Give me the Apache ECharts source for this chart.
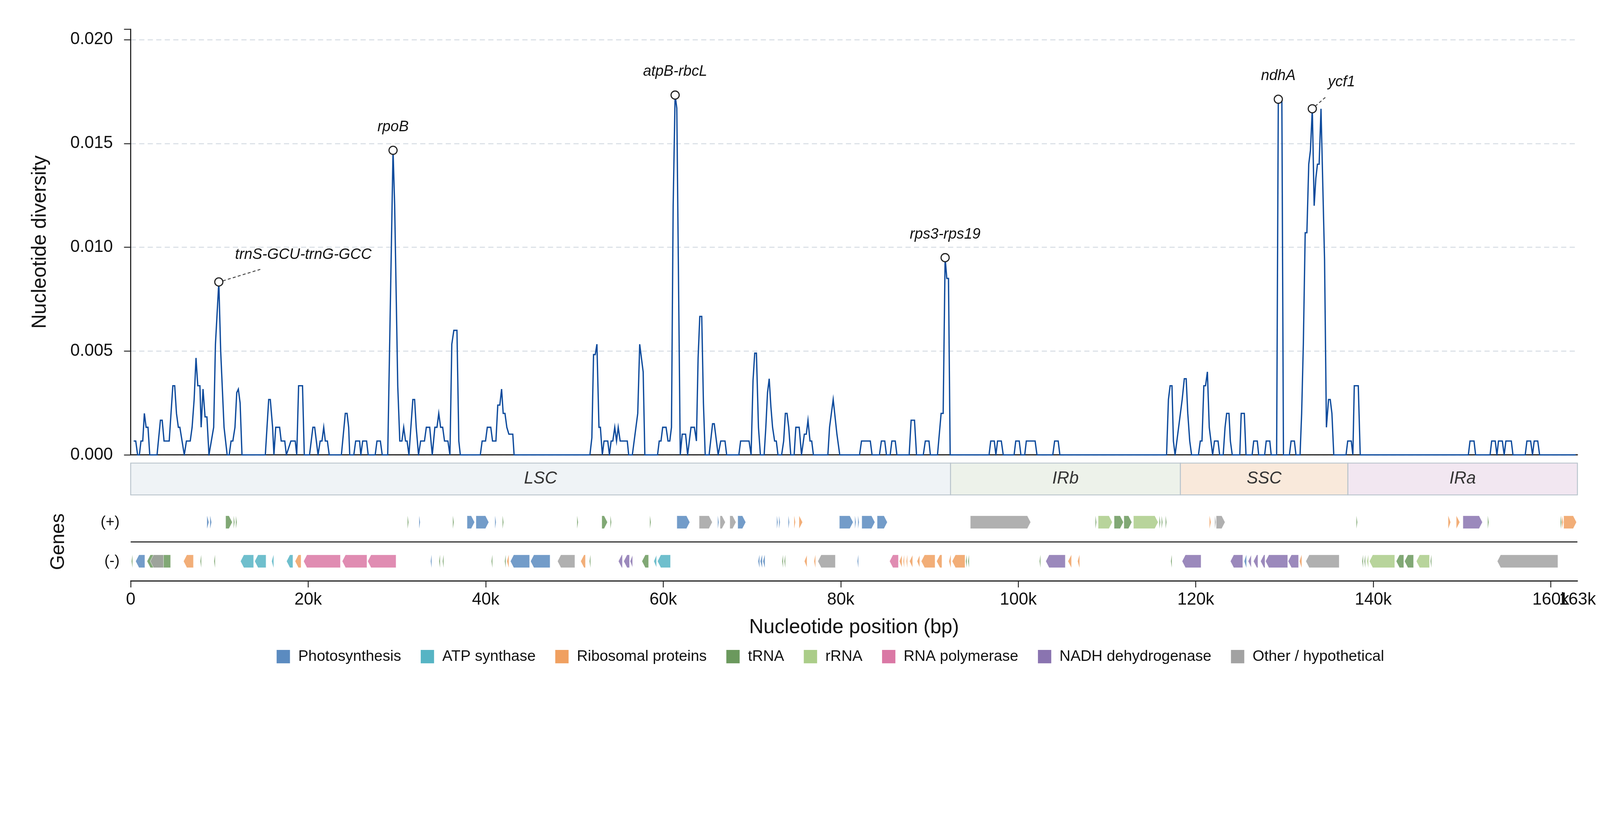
<!DOCTYPE html>
<html>
<head>
<meta charset="utf-8">
<title>Nucleotide diversity</title>
<script src="https://cdn.jsdelivr.net/npm/echarts@6.0.0/dist/echarts.min.js"></script>
<style>
  html, body { margin: 0; padding: 0; background: #fff; overflow: hidden; }
  #main { width: 100vw; height: 100vh; }
</style>
</head>
<body>
<div id="main"></div>
<script>
// sliding-window Pi, [position in kb, Pi]
var piLSC = [
  [0.34,0.00067],[0.57,0.00067],[0.78,0],[0.98,0],[1.16,0.00067],[1.36,0.00067],[1.54,0.002],[1.74,0.00133],[1.95,0.00133],[2.15,0],
  [2.97,0],[3.35,0.00167],[3.55,0.00167],[3.76,0.00067],[4.34,0.00067],[4.75,0.00333],[4.96,0.00333],[5.16,0.002],[5.37,0.00133],[5.54,0.00133],[6.04,0],
  [6.28,0.00067],[6.71,0.00067],[6.92,0.00133],[7.15,0.00267],[7.36,0.00467],[7.56,0.00333],[7.80,0.00333],[7.94,0.00133],[8.15,0.00317],[8.38,0.00183],[8.59,0.00183],[8.82,0],
  [9.35,0.00133],[9.55,0.00533],[9.93,0.00833],[10.14,0.005],[10.52,0.00133],[10.87,0],[11.10,0],[11.31,0.00067],[11.51,0.00067],[11.75,0.00133],[11.95,0.003],[12.13,0.00317],[12.33,0.0025],[12.54,0],
  [15.17,0],[15.55,0.00267],[15.73,0.00267],[15.99,0.00133],[16.14,0],[16.34,0.00133],[16.78,0.00133],[16.96,0.00067],[17.36,0.00067],[17.54,0],[18.05,0.00067],[18.54,0.00067],[18.71,0],[18.92,0.00333],[19.36,0.00333],[19.56,0],
  [20.15,0],[20.53,0.00133],[20.73,0.00133],[21.11,0],[21.35,0.00067],[21.55,0.00067],[21.75,0.00133],[21.93,0.00067],[22.16,0.00067],[22.37,0],
  [23.74,0],[24.18,0.002],[24.38,0.002],[24.56,0.00133],[24.68,0],
  [25.14,0],[25.35,0.00067],[25.79,0.00067],[25.93,0],[26.14,0.00067],[26.58,0.00067],[26.76,0],[27.55,0],[27.75,0.00067],[28.13,0.00067],[28.34,0],
  [28.96,0],[29.56,0.01467],[29.74,0.01205],[30.09,0.00333],[30.32,0.00067],[30.56,0.00067],[30.76,0.00133],[30.97,0.00067],[31.14,0.00067],[31.35,0],
  [31.79,0.00267],[31.99,0.00267],[32.17,0.00133],[32.43,0],[32.67,0.00067],[33.10,0.00067],[33.31,0.00133],[33.69,0.00133],[33.98,0],[34.27,0.00133],[34.51,0.00133],[34.71,0.002],[34.92,0.00133],[35.15,0.00133],[35.36,0.00067],[35.74,0.00067],[35.97,0],
  [36.18,0.00533],[36.41,0.006],[36.76,0.006],[36.97,0.00067],[37.14,0],
  [39.39,0],[39.60,0.00067],[39.98,0.00067],[40.18,0.00133],[40.57,0.00133],[40.77,0.00067],[41.15,0.00067],[41.36,0.0024],[41.59,0.0024],[41.79,0.00317],[41.97,0.002],[42.17,0.002],[42.38,0.00133],[42.61,0.001],[43.05,0.001],[43.20,0],
  [51.74,0],[51.96,0.00083],[52.15,0.00483],[52.34,0.00483],[52.53,0.00533],[52.76,0.00133],[52.92,0.00133],[53.14,0],[53.33,0.00067],[53.75,0.00067],[53.94,0],[54.13,0.00067],[54.32,0.00067],[54.54,0.00133],[54.74,0.00067],[54.93,0.00133],[55.15,0.00067],[55.95,0.00067],[56.11,0],
  [56.52,0],[57.13,0.002],[57.35,0.00533],[57.74,0.004],[57.93,0],
  [59.36,0],[59.55,0.00067],[59.75,0.00067],[59.94,0.00133],[60.32,0.00133],[60.54,0.00067],[60.74,0.00067],[60.93,0.00133],[61.12,0.012],[61.34,0.01733],[61.53,0.0167],[61.92,0],
  [62.14,0.001],[62.52,0.001],[62.75,0],[63.13,0.00133],[63.51,0.00133],[63.74,0.00067],[63.93,0.00467],[64.12,0.00667],[64.34,0.00667],[64.53,0.0025],[64.73,0],
  [65.17,0],[65.56,0.0015],[65.75,0.0015],[66.19,0],[66.48,0.00067],[66.96,0.00067],[67.15,0],
  [68.52,0],[68.72,0.00067],[69.67,0.00067],[69.90,0],[70.12,0.0036],[70.31,0.0049],[70.50,0.0049],[70.73,0.00133],[70.95,0],
  [71.37,0],[71.56,0.00133],[71.75,0.003],[71.94,0.00367],[72.13,0.00233],[72.32,0.00133],[72.55,0.00067],[72.74,0.00067],[72.93,0],
  [73.34,0],[73.57,0.00067],[73.76,0.002],[73.95,0.002],[74.14,0.00133],[74.37,0],
  [74.75,0],[74.94,0.00133],[75.32,0.00133],[75.58,0],[75.90,0.001],[76.12,0.001],[76.31,0.00167],[76.54,0.00067],[76.73,0.00067],[76.92,0],
  [78.55,0],[78.74,0.00133],[79.15,0.00267],[79.57,0.001],[79.89,0],
  [82.12,0],[82.34,0.00067],[83.33,0.00067],[83.53,0],[84.36,0],[84.58,0.00067],[84.96,0.00067],[85.15,0],[85.57,0],[85.76,0.00067],[86.14,0.00067],[86.33,0],
  [87.71,0],[87.93,0.00167],[88.31,0.00167],[88.54,0],[89.30,0],[89.53,0.00067],[89.94,0.00067],[90.10,0],[90.90,0],[91.31,0.002],[91.54,0.002],[91.76,0.0095],[91.95,0.0085],[92.14,0.0085],[92.33,0]
];
var piIRb = [
  [96.71,0],[96.90,0.00067],[97.30,0.00067],[97.48,0],[97.67,0.00067],[98.09,0.00067],[98.31,0],
  [99.53,0],[99.72,0.00067],[100.11,0.00067],[100.30,0],[100.73,0],[100.91,0.00067],[101.90,0.00067],[102.11,0],
  [103.89,0],[104.10,0.00067],[104.50,0.00067],[104.69,0],
  [116.71,0],[116.92,0.00267],[117.11,0.00333],[117.32,0.00333],[117.48,0.00067],[117.67,0]
];
var piSSC = [
  [118.12,0.0015],[118.47,0.00267],[118.71,0.00367],[118.92,0.00367],[119.10,0.002],[119.32,0.00067],[119.53,0],
  [120.30,0],[120.51,0.00067],[120.70,0.00067],[120.91,0.00333],[121.10,0.00333],[121.31,0.004],[121.52,0.00133],[121.71,0.00067],[121.90,0],[122.11,0.00067],[122.51,0.00067],[122.69,0],
  [123.09,0],[123.30,0.00133],[123.48,0.002],[123.74,0.002],[123.90,0.00067],[124.11,0],[124.96,0],[125.12,0.002],[125.47,0.002],[125.66,0],
  [126.35,0],[126.53,0.00067],[126.93,0.00067],[127.09,0],[127.76,0],[127.94,0.00067],[128.34,0.00067],[128.50,0],
  [129.11,0],[129.30,0.01713],[129.70,0.0171],[129.88,0],[130.55,0],[130.74,0.00067],[131.11,0.00067],[131.29,0],
  [131.75,0],[131.93,0.002],[132.12,0.00533],[132.33,0.0107],[132.52,0.0107],[132.73,0.014],[132.92,0.01467],[133.13,0.01667],[133.34,0.012],[133.53,0.01333],[133.71,0.014],[133.90,0.014],[134.11,0.01667],[134.33,0.01267],[134.51,0.0094],[134.72,0.00133],[134.96,0.00267],[135.15,0.00267],[135.34,0.002],[135.55,0],
  [136.93,0]
];
var piIRa = [
  [137.12,0.00067],[137.52,0.00067],[137.70,0],[137.86,0.00333],[138.31,0.00333],[138.53,0],
  [150.71,0],[150.90,0.00067],[151.35,0.00067],[151.53,0],
  [153.16,0],[153.34,0.00067],[153.74,0.00067],[153.93,0],[154.11,0.00067],[154.54,0.00067],[154.75,0],[154.94,0.00067],[155.55,0.00067],[155.74,0],
  [157.12,0],[157.31,0.00067],[157.73,0.00067],[157.94,0],[158.13,0.00067],[158.53,0.00067],[158.74,0],[162.8,0]
];

// labelled hotspots
var peakNames = ['trnS-GCU-trnG-GCC', 'rpoB', 'atpB-rbcL', 'rps3-rps19', 'ndhA', 'ycf1'];
var peakPos = [9930, 29560, 61340, 91760, 129300, 133130];
var peakVals = [0.00833, 0.01467, 0.01733, 0.0095, 0.01713, 0.01667];

// genome regions (bp)
var regionNames = ['LSC', 'IRb', 'SSC', 'IRa'];
var regionStart = [0, 92370, 118270, 137140];
var regionEnd = [92370, 118270, 137140, 163000];

// gene categories
var categories = ['Photosynthesis', 'ATP synthase', 'Ribosomal proteins', 'tRNA', 'rRNA', 'RNA polymerase', 'NADH dehydrogenase', 'Other / hypothetical'];

// genes: [start, end, category index]
var genesPlus = [
  [8600,8800,0],[8950,9100,0],[10700,11450,3],[11600,11660,3],[11850,11910,3],[31200,31270,3],[32500,32560,0],[36300,36370,3],
  [37900,38750,0],[38900,40350,0],[41050,41120,0],[41900,41970,3],
  [50300,50370,3],[53080,53720,3],[54050,54120,3],[58500,58570,3],[61540,63000,0],[64050,65530,7],[66150,66230,0],[66400,67000,7],
  [67500,68200,7],[68400,69300,0],[72800,72880,0],[73050,73150,0],[74100,74180,0],[74750,74880,2],[75300,75700,2],
  [79850,81400,0],[81600,81680,0],[81950,82050,0],[82370,83850,0],[84100,85250,0],[94600,101400,7],
  [108700,108770,3],[109000,110600,4],[110800,111850,3],[111900,112800,3],[112980,115760,4],[115900,115970,3],[116150,116220,3],[116600,116680,3],
  [121550,121700,2],[122150,122230,7],[122300,123300,7],[138100,138170,3],[148450,148700,2],[149350,149750,2],[150100,152300,6],[152900,152970,3],
  [161100,161170,3],[161250,161400,2],[161450,162900,2]
];
var genesMinus = [
  [100,170,3],[560,1600,0],[1840,4500,3],[2200,3700,7],[5950,7070,2],[7850,7920,3],[9400,9470,3],
  [12370,13850,1],[13970,15250,1],[15900,16100,1],[17560,18280,1],[18520,19200,2],
  [19480,23630,5],[23830,26620,5],[26700,29900,5],[33800,33870,0],[34750,34820,3],[35150,35250,3],
  [40650,40720,3],[42150,42220,3],[42400,42600,2],[42780,44950,0],[45050,47250,0],[48090,50050,7],[50700,51240,2],[51700,51770,3],
  [54950,55400,6],[55550,56200,6],[56270,56550,6],[57600,58350,3],[58940,59250,1],[59350,60820,1],
  [70700,70850,0],[70950,71150,0],[71250,71450,0],[73400,73460,3],[73650,73710,3],[75900,76200,2],[77000,77150,2],[77420,79400,7],[81880,81950,0],
  [85500,86500,5],[86600,86900,2],[87050,87150,2],[87400,87500,2],[87750,88100,2],[88600,88900,2],[89070,90630,2],[90800,91400,2],
  [92200,92400,2],[92550,94000,2],[94100,94200,3],[94350,94450,3],[102400,102470,3],[103100,105300,6],[105600,106000,2],[106700,106900,2],
  [117200,117270,3],[118460,120600,6],[123900,125300,6],[125470,125700,0],[125900,126250,6],[126500,127000,6],[127300,127800,6],
  [127860,130360,6],[130400,131580,6],[131700,131930,2],[132400,136160,7],
  [138750,138820,3],[139000,139070,3],[139300,139450,4],[139560,142420,4],[142580,143440,3],[143520,144540,3],[144850,146340,4],[146450,146520,3],
  [153970,160800,7]
];

var genomeLen = 163000;
var font = '"Liberation Sans", Arial, sans-serif';
var catColors = ['#5b8bc0', '#56b4c4', '#f0a060', '#6b995d', '#abcd89', '#da78a5', '#8a74b0', '#a2a2a2'];
var regionFill = ['#eff3f6', '#edf2ea', '#f9e9db', '#f2e7f1'];

// layout was measured on a 4322 px wide figure; scale to whatever viewport we get
var S = window.innerWidth / 4322;
function px(v) { return v * S; }

// where each hotspot label sits relative to its point (px at full size)
var labelStyle = {
  'trnS-GCU-trnG-GCC': { dx: 44, dy: -73, align: 'left', lead: [11, -3, 112, -34] },
  'ycf1': { dx: 79, dy: -72, align: 'center', lead: [8, -7, 39, -34] }
};

var chart = echarts.init(document.getElementById('main'));

var trace = piLSC.concat(piIRb, piSSC, piIRa).map(function (d) { return [d[0] * 1000, d[1]]; });

function kLabel(v) { return v === 0 ? '0' : Math.round(v / 1000) + 'k'; }

function regionItem(params, api) {
  var a = api.coord([api.value(0), 1]);
  var b = api.coord([api.value(1), 0]);
  return {
    type: 'group',
    children: [{
      type: 'rect',
      shape: { x: a[0], y: a[1], width: b[0] - a[0], height: b[1] - a[1] },
      style: { fill: regionFill[params.dataIndex], stroke: '#b9c4cc', lineWidth: px(2.5) }
    }, {
      type: 'text',
      style: {
        text: regionNames[params.dataIndex], x: (a[0] + b[0]) / 2, y: (a[1] + b[1]) / 2,
        align: 'center', verticalAlign: 'middle', font: 'italic ' + px(46) + 'px ' + font, fill: '#333'
      }
    }]
  };
}

function geneItem(params, api) {
  var y = api.value(2);
  var a = api.coord([api.value(0), y]);
  var b = api.coord([api.value(1), y]);
  var h = px(17.5);
  if (b[0] - a[0] < px(2.5)) b[0] = a[0] + px(2.5);
  var w = b[0] - a[0];
  var head = Math.min(px(9), w);
  var pts;
  if (y > 2) {
    pts = [[a[0], a[1] - h], [b[0] - head, a[1] - h], [b[0], a[1]], [b[0] - head, a[1] + h], [a[0], a[1] + h]];
  } else {
    pts = [[b[0], a[1] - h], [a[0] + head, a[1] - h], [a[0], a[1]], [a[0] + head, a[1] + h], [b[0], a[1] + h]];
  }
  return {
    type: 'polygon',
    shape: { points: pts },
    style: { fill: api.visual('color'), opacity: 0.85, stroke: w > px(6) ? '#fff' : null, lineWidth: px(1) }
  };
}

function peakItem(params, api) {
  var p = api.coord([api.value(0), api.value(1)]);
  var name = peakNames[params.dataIndex];
  var o = labelStyle[name] || { dx: 0, dy: -63, align: 'center' };
  var kids = [];
  if (o.lead) {
    kids.push({
      type: 'line',
      shape: { x1: p[0] + px(o.lead[0]), y1: p[1] + px(o.lead[1]), x2: p[0] + px(o.lead[2]), y2: p[1] + px(o.lead[3]) },
      style: { stroke: '#444', lineWidth: px(2.5), lineDash: [px(8), px(6)] }
    });
  }
  kids.push({
    type: 'circle',
    shape: { cx: p[0], cy: p[1], r: px(11) },
    style: { fill: '#fff', stroke: '#222', lineWidth: px(3) }
  });
  kids.push({
    type: 'text',
    style: {
      text: name, x: p[0] + px(o.dx), y: p[1] + px(o.dy), align: o.align, verticalAlign: 'middle',
      font: 'italic ' + px(40) + 'px ' + font, fill: '#111'
    }
  });
  return { type: 'group', children: kids };
}

// one custom series per category so the legend picks them up
var geneSeries = categories.map(function (name, ci) {
  var data = [];
  genesPlus.forEach(function (g) { if (g[2] === ci) data.push([g[0], g[1], 3, ci]); });
  genesMinus.forEach(function (g) { if (g[2] === ci) data.push([g[0], g[1], 1, ci]); });
  return {
    name: name,
    type: 'custom',
    xAxisIndex: 2,
    yAxisIndex: 2,
    itemStyle: { color: catColors[ci] },
    renderItem: geneItem,
    encode: { x: [0, 1], y: 2 },
    data: data,
    silent: true
  };
});
// strand separator
geneSeries[0].markLine = {
  silent: true, symbol: 'none', label: { show: false },
  lineStyle: { color: '#333', width: px(3), type: 'solid' },
  data: [{ yAxis: 2 }]
};

var option = {
  backgroundColor: '#fff',
  animation: false,
  textStyle: { fontFamily: font },
  grid: [
    { left: px(353), right: px(61), top: px(79), height: px(1150) },
    { left: px(353), right: px(61), top: px(1251), height: px(86) },
    { left: px(353), right: px(61), top: px(1358), height: px(211) }
  ],
  legend: {
    data: categories,
    left: px(742),
    top: px(1748),
    icon: 'rect',
    itemWidth: px(36),
    itemHeight: px(36),
    itemGap: px(53),
    selectedMode: false,
    textStyle: { fontSize: px(41), color: '#111', fontFamily: font, padding: [0, 0, 0, px(17)] }
  },
  xAxis: [{
    gridIndex: 0, type: 'value', min: 0, max: genomeLen,
    axisLine: { show: true, lineStyle: { color: '#222', width: px(3) } },
    axisTick: { show: false }, axisLabel: { show: false }, splitLine: { show: false }
  }, {
    gridIndex: 1, type: 'value', min: 0, max: genomeLen, show: false
  }, {
    gridIndex: 2, type: 'value', position: 'bottom', min: 0, max: genomeLen, interval: 20000,
    axisLine: { show: true, onZero: false, lineStyle: { color: '#222', width: px(3) } },
    axisTick: { show: true, length: px(18), lineStyle: { color: '#222', width: px(2.5) } },
    axisLabel: {
      fontSize: px(46), color: '#111', margin: px(28), showMaxLabel: false, showMinLabel: true, hideOverlap: false,
      formatter: kLabel
    },
    splitLine: { show: false },
    name: 'Nucleotide position (bp)', nameLocation: 'middle', nameGap: px(100),
    nameTextStyle: { fontSize: px(54), color: '#111' }
  }, {
    // carries only the genome-length label at the right end
    gridIndex: 2, type: 'value', position: 'bottom', offset: 0, min: 0, max: genomeLen,
    axisLine: { show: false, onZero: false }, axisTick: { show: false }, splitLine: { show: false },
    axisLabel: {
      fontSize: px(46), color: '#111', margin: px(28), showMaxLabel: true, hideOverlap: false,
      customValues: [genomeLen], formatter: kLabel
    }
  }],
  yAxis: [{
    gridIndex: 0, type: 'value', min: 0, max: 0.0205, interval: 0.005,
    axisLine: { show: true, lineStyle: { color: '#222', width: px(3) } },
    axisTick: { show: true, length: px(18), lineStyle: { color: '#222', width: px(2.5) } },
    axisLabel: {
      fontSize: px(46), color: '#111', margin: px(48),
      formatter: function (v) {
        var k = v / 0.005;
        return Math.abs(k - Math.round(k)) < 1e-6 ? v.toFixed(3) : '';
      }
    },
    splitLine: { show: true, showMaxLine: false, lineStyle: { color: '#d5dce3', width: px(2.5), type: [px(14), px(9)] } },
    name: 'Nucleotide diversity', nameLocation: 'middle', nameGap: px(218),
    nameTextStyle: { fontSize: px(54), color: '#111' }
  }, {
    gridIndex: 1, type: 'value', min: 0, max: 1, show: false
  }, {
    gridIndex: 2, type: 'value', min: 0, max: 4, interval: 1,
    axisLine: { show: false }, axisTick: { show: false }, splitLine: { show: false },
    axisLabel: {
      fontSize: px(41), color: '#111', margin: px(30),
      formatter: function (v) { return v === 3 ? '(+)' : (v === 1 ? '(-)' : ''); }
    },
    name: 'Genes', nameLocation: 'middle', nameGap: px(168),
    nameTextStyle: { fontSize: px(52), color: '#111' }
  }],
  series: [{
    name: 'Pi',
    type: 'line',
    xAxisIndex: 0,
    yAxisIndex: 0,
    data: trace,
    showSymbol: false,
    silent: true,
    lineStyle: { color: '#0d4a9c', width: px(3.5), join: 'miter' },
    z: 3
  }, {
    name: 'peaks',
    type: 'custom',
    xAxisIndex: 0,
    yAxisIndex: 0,
    renderItem: peakItem,
    data: peakPos.map(function (p, i) { return [p, peakVals[i]]; }),
    silent: true,
    z: 5
  }, {
    name: 'regions',
    type: 'custom',
    xAxisIndex: 1,
    yAxisIndex: 1,
    renderItem: regionItem,
    encode: { x: [0, 1] },
    data: regionStart.map(function (s, i) { return [s, regionEnd[i]]; }),
    silent: true
  }].concat(geneSeries)
};

chart.setOption(option);
</script>
</body>
</html>
